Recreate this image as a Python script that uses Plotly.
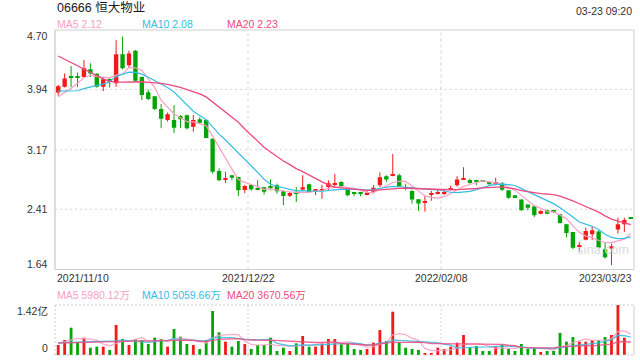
import plotly.graph_objects as go

# ---------------- data ----------------
title_text = "06666 恒大物业"
time_text = "03-23 09:20"
x_tick_labels = ["2021/11/10", "2021/12/22", "2022/02/08", "2023/03/23"]
price_ticks = [4.70, 3.94, 3.17, 2.41, 1.64]
price_tick_labels = ["4.70", "3.94", "3.17", "2.41", "1.64"]
vol_max = 14200  # 万
vol_tick_labels = ["1.42亿", "0"]
price_legend = ["MA5 2.12", "MA10 2.08", "MA20 2.23"]
vol_legend = ["MA5 5980.12万", "MA10 5059.66万", "MA20 3670.56万"]

opens = [3.90, 3.975, 4.10, 4.105, 4.10, 4.20, 4.14, 3.975, 4.075, 4.02,
         4.39, 4.25, 4.435, 4.10, 3.905, 3.855, 3.69, 3.55, 3.55, 3.60,
         3.61, 3.465, 3.56, 3.55, 3.31, 2.90, 2.785, 2.845, 2.823, 2.655,
         2.72, 2.68, 2.69, 2.692, 2.716, 2.639, 2.581, 2.625, 2.662, 2.729,
         2.645, 2.655, 2.695, 2.73, 2.757, 2.67, 2.62, 2.63, 2.602, 2.632,
         2.716, 2.83, 2.838, 2.844, 2.68, 2.642, 2.536, 2.494, 2.598, 2.612,
         2.612, 2.66, 2.715, 2.795, 2.785, 2.779, 2.772, 2.758, 2.745, 2.742,
         2.652, 2.588, 2.535, 2.472, 2.447, 2.353, 2.396, 2.396, 2.345, 2.217,
         2.119, 1.93, 2.021, 2.089, 2.127, 1.90, 1.904, 2.151, 2.217, 2.292]
highs = [4.00, 4.145, 4.24, 4.155, 4.315, 4.275, 4.145, 4.10, 4.085, 4.57,
         4.615, 4.435, 4.445, 4.105, 3.94, 3.86, 3.755, 3.645, 3.74, 3.615,
         3.62, 3.615, 3.585, 3.56, 3.315, 2.93, 2.89, 2.846, 2.825, 2.72,
         2.722, 2.78, 2.695, 2.79, 2.737, 2.652, 2.63, 2.694, 2.845, 2.737,
         2.664, 2.722, 2.78, 2.862, 2.767, 2.694, 2.632, 2.632, 2.652, 2.72,
         2.882, 2.843, 3.115, 2.865, 2.737, 2.652, 2.538, 2.58, 2.645, 2.66,
         2.665, 2.712, 2.833, 2.946, 2.80, 2.788, 2.78, 2.762, 2.813, 2.758,
         2.652, 2.592, 2.536, 2.473, 2.448, 2.396, 2.405, 2.405, 2.35, 2.222,
         2.12, 1.99, 2.175, 2.19, 2.14, 1.985, 1.97, 2.302, 2.302, 2.294]
lows = [3.86, 3.965, 3.97, 3.97, 4.09, 4.10, 3.965, 3.92, 3.965, 3.975,
        4.195, 4.21, 4.04, 3.805, 3.805, 3.675, 3.445, 3.53, 3.385, 3.445,
        3.43, 3.40, 3.50, 3.315, 2.865, 2.772, 2.746, 2.782, 2.58, 2.615,
        2.645, 2.652, 2.598, 2.652, 2.61, 2.462, 2.566, 2.502, 2.652, 2.62,
        2.59, 2.542, 2.652, 2.694, 2.687, 2.576, 2.575, 2.575, 2.588, 2.61,
        2.694, 2.758, 2.831, 2.694, 2.652, 2.481, 2.39, 2.38, 2.518, 2.60,
        2.592, 2.65, 2.698, 2.788, 2.737, 2.716, 2.758, 2.725, 2.716, 2.643,
        2.545, 2.56, 2.39, 2.396, 2.31, 2.345, 2.345, 2.36, 2.226, 2.05,
        1.90, 1.868, 2.012, 2.016, 1.906, 1.78, 1.698, 2.10, 2.12, 2.286]
closes = [3.98, 4.08, 4.09, 4.095, 4.21, 4.145, 3.975, 4.07, 4.04, 4.39,
          4.21, 4.40, 4.05, 3.87, 3.82, 3.69, 3.565, 3.625, 3.45, 3.56,
          3.445, 3.55, 3.515, 3.32, 2.89, 2.78, 2.81, 2.812, 2.653, 2.708,
          2.665, 2.658, 2.632, 2.683, 2.641, 2.579, 2.618, 2.61, 2.69, 2.63,
          2.655, 2.661, 2.742, 2.74, 2.705, 2.59, 2.612, 2.605, 2.62, 2.684,
          2.818, 2.79, 2.846, 2.70, 2.672, 2.533, 2.482, 2.513, 2.61, 2.622,
          2.624, 2.668, 2.79, 2.802, 2.745, 2.758, 2.767, 2.73, 2.758, 2.66,
          2.556, 2.566, 2.396, 2.43, 2.332, 2.387, 2.353, 2.375, 2.234, 2.106,
          1.919, 1.94, 2.132, 2.14, 1.919, 1.795, 1.936, 2.217, 2.272, 2.288]
volumes = [2840, 4260, 7760, 3600, 4920, 2080, 2370, 2370, 1420, 8520,
           4540, 2840, 4540, 4260, 3120, 4920, 4540, 2370, 7380, 5210,
           3120, 2840, 1700, 4260, 12500, 6440, 3790, 2370, 3980, 3120,
           1700, 2840, 2840, 4920, 1140, 2080, 1140, 3310, 5400, 2370,
           2370, 3310, 4540, 4540, 3030, 3310, 1700, 1420, 1700, 3500,
           7100, 3980, 12300, 3600, 2080, 1700, 1420, 570, 570, 2080,
           1700, 2370, 3500, 5680, 2080, 2560, 1140, 1140, 2370, 2840,
           1700, 1140, 3120, 1700, 2080, 850, 1140, 1140, 6250, 3790,
           5110, 3790, 3790, 4260, 4170, 5110, 5680, 14200, 4920, 0]

# moving-average values before a full window exists
ma5_head = [3.847, 3.90, 3.955, 4.02]
ma10_head = [3.920, 3.920, 3.920, 3.924, 3.950, 3.975, 3.992, 4.009, 4.039]
ma20_head = [4.368, 4.325, 4.282, 4.240, 4.206, 4.163, 4.120, 4.075, 4.045, 4.035,
             4.035, 4.039, 4.039, 4.039, 4.031, 4.027, 4.018, 4.005, 3.990]
vma5_head = [3310, 3790, 4260, 4730]
vma10_head = [3500, 3550, 3650, 3750, 3800, 3800, 3800, 3800, 3850]
vma20_head = [3400, 3450, 3550, 3600, 3700, 3700, 3750, 3750, 3750, 3850,
              3900, 3900, 3950, 4000, 4000, 4050, 4100, 4100, 4150]

# ---------------- helpers ----------------
def moving_average(values, window, head):
    out = list(head)
    for i in range(window - 1, len(values)):
        seg = values[i - window + 1:i + 1]
        out.append(sum(seg) / window)
    return out

n = len(closes)
idx = list(range(n))
RED = "#f31a1a"
GREEN = "#06a406"
C_MA5 = "#fb9fc2"
C_MA10 = "#35bde3"
C_MA20 = "#ee4a80"
FONT = "Liberation Sans, Arial, Noto Sans CJK SC, sans-serif"

W, H = 640, 360
ML, MR, MT, MB = 55, 6, 30, 5
PW = W - ML - MR
PH = H - MT - MB

def py(p):
    return (H - MB - p) / PH

def px(p):
    return (p - ML) / PW

PRICE_BOTTOM = 269.5
VOL_TOP = 305

is_up = [c >= o for o, c in zip(opens, closes)]
colors = [RED if u else GREEN for u in is_up]

ma5 = moving_average(closes, 5, ma5_head)
ma10 = moving_average(closes, 10, ma10_head)
ma20 = moving_average(closes, 20, ma20_head)
vma5 = moving_average(volumes, 5, vma5_head)
vma10 = moving_average(volumes, 10, vma10_head)
vma20 = moving_average(volumes, 20, vma20_head)

fig = go.Figure()

# wicks
for col in (RED, GREEN):
    wx, wy = [], []
    for i in idx:
        if colors[i] == col:
            wx += [i, i, None]
            wy += [lows[i], highs[i], None]
    fig.add_trace(go.Scatter(x=wx, y=wy, mode="lines", line=dict(color=col, width=1),
                             hoverinfo="skip", showlegend=False))

# bodies
body_base = [min(o, c) for o, c in zip(opens, closes)]
body_h = [max(abs(c - o), 0.013) for o, c in zip(opens, closes)]
fig.add_trace(go.Bar(x=idx, y=body_h, base=body_base, width=0.68,
                     marker=dict(color=colors, line=dict(width=0)), showlegend=False))

# price MAs
for vals, col, w in ((ma5, C_MA5, 1.2), (ma10, C_MA10, 1.2), (ma20, C_MA20, 1.3)):
    fig.add_trace(go.Scatter(x=idx, y=vals, mode="lines", line=dict(color=col, width=w),
                             showlegend=False, hoverinfo="skip"))

# volume
fig.add_trace(go.Bar(x=idx, y=volumes, width=0.44, marker=dict(color=colors, line=dict(width=0)),
                     xaxis="x2", yaxis="y2", showlegend=False))
for vals, col, w in ((vma5, C_MA5, 1.3), (vma10, C_MA10, 1.3), (vma20, C_MA20, 1.3)):
    fig.add_trace(go.Scatter(x=idx, y=vals, mode="lines", line=dict(color=col, width=w),
                             xaxis="x2", yaxis="y2", showlegend=False, hoverinfo="skip", opacity=0.85))

# ---------------- shapes ----------------
shapes = []
GRID = "#d6d6d6"
BORDER = "#cfcfcf"
# price panel gridlines
for t in price_ticks[1:-1]:
    shapes.append(dict(type="line", xref="paper", yref="y", x0=0, x1=1, y0=t, y1=t,
                       line=dict(color=GRID, width=1, dash="2px,3px"), layer="below"))
third1 = -0.5 + n / 3
third2 = -0.5 + 2 * n / 3
for xv in (third1, third2):
    shapes.append(dict(type="line", xref="x", yref="paper", x0=xv, x1=xv,
                       y0=py(PRICE_BOTTOM), y1=1, line=dict(color=GRID, width=1, dash="3px,3px"),
                       layer="below"))
    shapes.append(dict(type="line", xref="x", yref="paper", x0=xv, x1=xv,
                       y0=0, y1=py(VOL_TOP), line=dict(color=GRID, width=1, dash="2px,2px"),
                       layer="below"))
# price borders
shapes.append(dict(type="line", xref="paper", yref="paper", x0=0, x1=1, y0=1, y1=1,
                   line=dict(color=BORDER, width=1)))
shapes.append(dict(type="line", xref="paper", yref="paper", x0=0, x1=1,
                   y0=py(PRICE_BOTTOM), y1=py(PRICE_BOTTOM), line=dict(color=BORDER, width=1)))
shapes.append(dict(type="line", xref="paper", yref="paper", x0=1, x1=1,
                   y0=py(PRICE_BOTTOM), y1=1, line=dict(color=BORDER, width=1)))
shapes.append(dict(type="line", xref="paper", yref="paper", x0=0, x1=0,
                   y0=py(PRICE_BOTTOM), y1=1, line=dict(color="#bdbdbd", width=1)))
# volume borders
for yy in (0, py(VOL_TOP)):
    shapes.append(dict(type="line", xref="paper", yref="paper", x0=0, x1=1, y0=yy, y1=yy,
                       line=dict(color="#cccccc", width=1.2, dash="2px,2px")))
shapes.append(dict(type="line", xref="paper", yref="paper", x0=0, x1=0, y0=0, y1=py(VOL_TOP),
                   line=dict(color="#cccccc", width=1, dash="2px,2px")))
shapes.append(dict(type="line", xref="paper", yref="paper", x0=1, x1=1, y0=0, y1=py(VOL_TOP),
                   line=dict(color=BORDER, width=1)))

# ---------------- annotations ----------------
ann = []
def text(x, y, s, color="#333333", size=10.5, xanchor="left", xref="paper", yref="paper",
         yshift=0, xshift=0):
    ann.append(dict(x=x, y=y, text=s, xref=xref, yref=yref, xanchor=xanchor, yanchor="middle",
                    showarrow=False, font=dict(family=FONT, size=size, color=color),
                    yshift=yshift, xshift=xshift))

text(0, py(7.5), title_text, color="#1a1a1a", size=12.5)
text(1, py(11), time_text, color="#333333", size=10.5, xanchor="right")
for s, xp, col in zip(price_legend, (55, 140, 225), (C_MA5, C_MA10, C_MA20)):
    text(px(xp), py(23.7), s, color=col, size=10.5)
shifts = [-5.5] + [0] * (len(price_ticks) - 2) + [6]
for t, lab, sh in zip(price_ticks, price_tick_labels, shifts):
    text(0, t, lab, xanchor="right", yref="y", yshift=sh, xshift=-5, color="#333333")
# date labels
text(-0.5, py(277.5), x_tick_labels[0], xref="x", xanchor="left")
text(third1, py(277.5), x_tick_labels[1], xref="x", xanchor="center")
text(third2, py(277.5), x_tick_labels[2], xref="x", xanchor="center")
text(n - 0.5, py(277.5), x_tick_labels[3], xref="x", xanchor="right")
for s, xp, col in zip(vol_legend, (55, 140, 225), (C_MA5, C_MA10, C_MA20)):
    text(px(xp), py(295), s, color=col, size=10.5)
text(0, py(311), vol_tick_labels[0], xanchor="right", xshift=-5)
text(0, py(348), vol_tick_labels[1], xanchor="right", xshift=-5)
text(px(603), py(249), "sina.com", color="#dcdcdc", size=13, xanchor="center")

axis_common = dict(showgrid=False, zeroline=False, showticklabels=False, ticks="",
                   showline=False, fixedrange=True)
fig.update_layout(
    width=W, height=H,
    margin=dict(l=ML, r=MR, t=MT, b=MB, pad=0),
    paper_bgcolor="white", plot_bgcolor="white",
    showlegend=False, barmode="overlay", hovermode=False,
    xaxis=dict(domain=[0, 1], range=[-0.5, n - 0.5], anchor="y", **axis_common),
    yaxis=dict(domain=[py(PRICE_BOTTOM), 1], range=[price_ticks[-1], price_ticks[0]],
               anchor="x", **axis_common),
    xaxis2=dict(domain=[0, 1], range=[-0.5, n - 0.5], anchor="y2", **axis_common),
    yaxis2=dict(domain=[0, py(VOL_TOP)], range=[0, vol_max], anchor="x2", **axis_common),
    shapes=shapes, annotations=ann,
)

fig.write_html("out.html")
